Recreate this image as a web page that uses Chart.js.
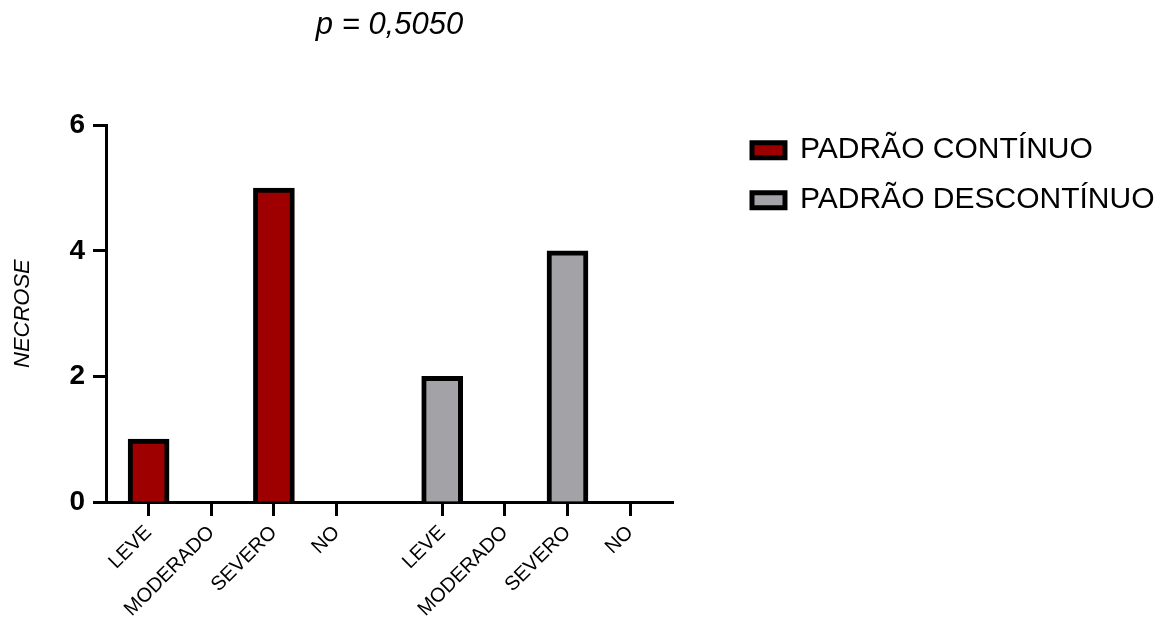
<!DOCTYPE html>
<html>
<head>
<meta charset="utf-8">
<script src="https://cdn.jsdelivr.net/npm/chart.js@4.4.1/dist/chart.umd.min.js"></script>
<style>
  html, body { margin: 0; padding: 0; background: #fff; }
  canvas { display: block; }
</style>
</head>
<body>
<canvas id="chart" width="1176" height="624"></canvas>
<script>
const categories = ['LEVE', 'MODERADO', 'SEVERO', 'NO'];
const continuoValues = [1, 0, 5, 0];
const descontinuoValues = [2, 0, 4, 0];
const seriesNames = ['PADRÃO CONTÍNUO', 'PADRÃO DESCONTÍNUO'];
const yTicks = [0, 2, 4, 6];
const titleText = 'p = 0,5050';
const yTitle = 'NECROSE';

// second group starts a bit more than one empty slot after the first
const groupStart = [0, 4.686];
const positions = groupStart.flatMap(s => categories.map((c, i) => s + i));
const tickLabels = groupStart.flatMap(() => categories);
const toPoints = (vals, g) => vals.map((v, i) => ({ x: groupStart[g] + i, y: v }));

const family = 'Liberation Sans, Arial, Helvetica, sans-serif';

// legend sits to the right of the plot, like the Prism export
const moveLegend = {
  id: 'moveLegend',
  afterLayout(chart) {
    const lg = chart.legend;
    const area = chart.chartArea;
    lg.left = area.right + 59;
    lg.right = lg.left + lg.width;
    lg.top = area.top - 10;
    lg.bottom = lg.top + lg.height;
  }
};

new Chart(document.getElementById('chart'), {
  type: 'bar',
  data: {
    datasets: [
      {
        label: seriesNames[0],
        data: toPoints(continuoValues, 0),
        backgroundColor: '#9e0000',
        borderColor: '#000',
        borderWidth: 5,
        barThickness: 41,
        grouped: false,
      },
      {
        label: seriesNames[1],
        data: toPoints(descontinuoValues, 1),
        backgroundColor: '#a3a2a7',
        borderColor: '#000',
        borderWidth: 5,
        barThickness: 41,
        grouped: false,
      },
    ],
  },
  options: {
    responsive: false,
    animation: false,
    layout: { padding: { left: 0, right: 503, top: 0, bottom: 0 } },
    scales: {
      x: {
        type: 'linear',
        offset: false,
        min: -0.68,
        max: 8.37,
        afterBuildTicks: s => { s.ticks = positions.map(v => ({ value: v })); },
        afterFit: s => { s.height = 122; },
        grid: { offset: false, drawOnChartArea: false, tickLength: 14, tickWidth: 3, tickColor: '#000' },
        border: { display: true, color: '#000', width: 3 },
        ticks: {
          autoSkip: false,
          minRotation: 45,
          maxRotation: 45,
          padding: 5,
          color: '#000',
          font: { family, size: 20 },
          callback: (v, i) => tickLabels[i],
        },
      },
      y: {
        min: 0,
        max: 6,
        afterBuildTicks: s => { s.ticks = yTicks.map(v => ({ value: v })); },
        afterFit: s => { s.width = 106; },
        grid: { drawOnChartArea: false, tickLength: 13, tickWidth: 3, tickColor: '#000' },
        border: { display: true, color: '#000', width: 3 },
        ticks: { padding: 8, color: '#000', font: { family, size: 28, weight: 'bold' } },
        title: {
          display: true,
          text: yTitle,
          color: '#000',
          font: { family, size: 22, style: 'italic' },
          padding: { top: 10, bottom: 0 },
        },
      },
    },
    plugins: {
      title: {
        display: true,
        text: titleText,
        fullSize: false,
        color: '#000',
        font: { family, size: 31, style: 'italic', weight: 'normal' },
        padding: { top: 7, bottom: 81 },
      },
      legend: {
        position: 'chartArea',
        align: 'start',
        labels: {
          boxWidth: 33,
          boxHeight: 15,
          padding: 20,
          color: '#000',
          font: { family, size: 30 },
        },
      },
      tooltip: { enabled: false },
    },
  },
  plugins: [moveLegend],
});
</script>
</body>
</html>
